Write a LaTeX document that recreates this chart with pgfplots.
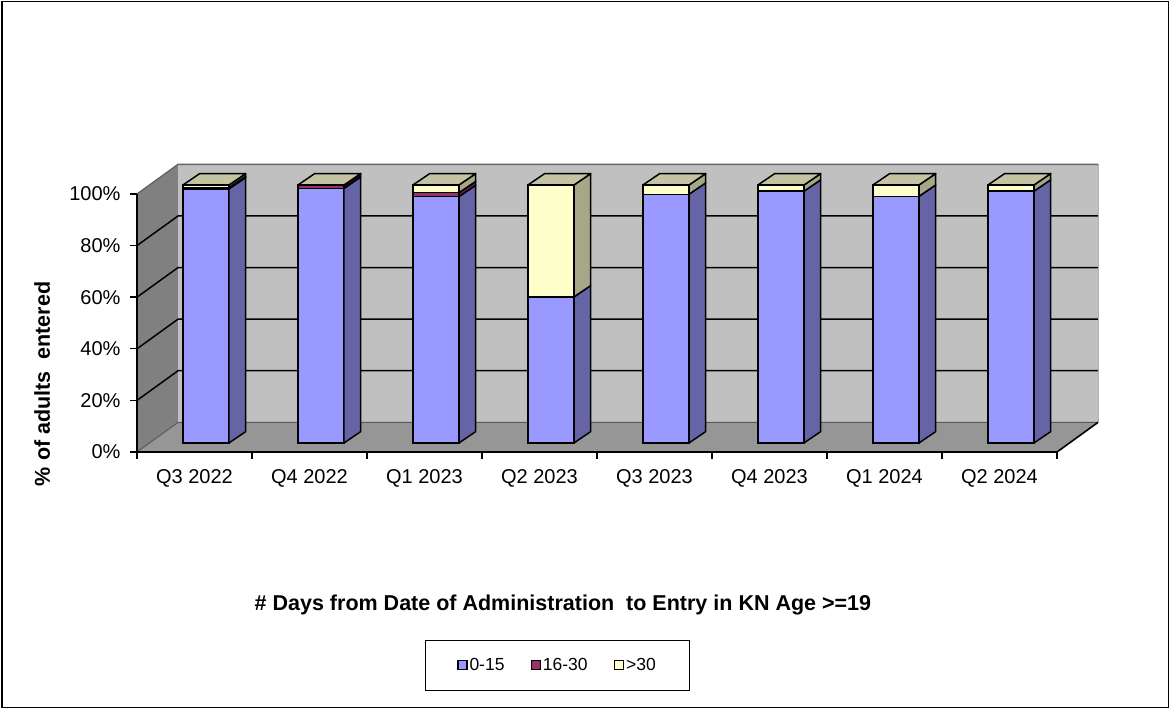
\documentclass[border=0pt]{standalone}
\usepackage{fontspec}
\setmainfont{Liberation Sans}
\usepackage{pgfplots}
\usepackage{pgfplotstable}
\pgfplotsset{compat=1.18}

\definecolor{blueF}{HTML}{9999FF}
\definecolor{blueS}{HTML}{6464A6}
\definecolor{redF}{HTML}{993366}
\definecolor{redS}{HTML}{662244}
\definecolor{yelF}{HTML}{FFFFCC}
\definecolor{yelS}{HTML}{A6A688}
\definecolor{topF}{HTML}{C4C4A2}
\definecolor{wallB}{HTML}{C0C0C0}
\definecolor{wallL}{HTML}{808080}
\definecolor{floorC}{HTML}{969696}

% share of adults by days to entry (percent)
\pgfplotstableread{
x a b c
0 98.5 0.5 1.0
1 98.7 1.0 0.3
2 95.5 1.5 3.0
3 56.6 0.0 43.4
4 96.4 0.0 3.6
5 97.6 0.0 2.4
6 95.6 0.0 4.4
7 97.6 0.0 2.4
}\datatable

% 3d look: bar depth and bar base
\def\bx{0.145}
\def\by{4.4}
\def\base{3.5}

\begin{document}
\begin{tikzpicture}
\path (0pt,0pt) rectangle (1171pt,709pt);
\draw[line width=1.5pt] (2pt,1.5pt) rectangle (1168.5pt,707.5pt);
\begin{axis}[
    at={(137pt,257pt)}, anchor=south west,
    scale only axis, width=920pt, height=258pt,
    xmin=-0.5, xmax=7.5, ymin=0, ymax=100,
    clip=false, axis on top,
    ybar stacked, reverse stacked plots=false,
    bar width=0.4, bar shift=0.1,
    axis x line*=bottom, axis y line*=left,
    axis line style={line width=1.6pt, black},
    tick align=outside, major tick length=7pt,
    tick style={black, line width=1.4pt},
    xtick={-0.5,0.5,...,7.5},
    xticklabels={Q3 2022,Q4 2022,Q1 2023,Q2 2023,Q3 2023,Q4 2023,Q1 2024,Q2 2024,{}},
    xticklabel style={xshift=57.5pt, yshift=-7pt},
    ytick={0,20,...,100},
    yticklabels={0\%,20\%,40\%,60\%,80\%,100\%},
    yticklabel style={xshift=-6pt},
    ticklabel style={font=\fontsize{20}{22}\selectfont},
    ylabel={\% of adults\ \ entered},
    ylabel style={at={(axis description cs:-0.103,0.264)}, rotate=0, anchor=center,
        font=\bfseries\fontsize{21.5}{24}\selectfont},
    xlabel={\# Days from Date of Administration\ \ to Entry in KN Age >=19},
    xlabel style={at={(axis description cs:0.463,-0.593)}, anchor=center,
        font=\bfseries\fontsize{21.5}{24}\selectfont},
    legend columns=3,
    legend style={at={(axis description cs:0.457,-0.826)}, anchor=center,
        draw=black, line width=0.8pt, font=\fontsize{17.5}{20}\selectfont,
        inner xsep=32pt, inner ysep=16pt,
        /tikz/every even column/.append style={column sep=24pt}},
    legend image code/.code={\draw[#1, draw=black, line width=1.4pt] (0pt,-4.5pt) rectangle (9pt,4.5pt);},
]
% walls and floor
\fill[wallL] (axis cs:-0.5,0) -- (axis cs:-0.143,11.5) -- (axis cs:-0.143,111.5) -- (axis cs:-0.5,100) -- cycle;
\fill[floorC] (axis cs:-0.5,0) -- (axis cs:7.5,0) -- (axis cs:7.857,11.5) -- (axis cs:-0.143,11.5) -- cycle;
\fill[wallB] (axis cs:-0.143,11.5) rectangle (axis cs:7.857,111.5);
\draw[black, line width=1.5pt] (axis cs:-0.5,20) -- (axis cs:-0.143,31.5) -- (axis cs:7.857,31.5);
\draw[black, line width=1.5pt] (axis cs:-0.5,40) -- (axis cs:-0.143,51.5) -- (axis cs:7.857,51.5);
\draw[black, line width=1.5pt] (axis cs:-0.5,60) -- (axis cs:-0.143,71.5) -- (axis cs:7.857,71.5);
\draw[black, line width=1.5pt] (axis cs:-0.5,80) -- (axis cs:-0.143,91.5) -- (axis cs:7.857,91.5);
\draw[gray!80!black, line width=1.4pt] (axis cs:-0.5,100) -- (axis cs:-0.143,111.5) -- (axis cs:7.857,111.5);
\draw[gray!60, line width=1pt] (axis cs:7.857,111.5) -- (axis cs:7.857,11.5);
\draw[gray!70!black, line width=1pt] (axis cs:-0.5,0) -- (axis cs:-0.143,11.5) -- (axis cs:7.857,11.5);
\draw[black, line width=1.6pt] (axis cs:7.5,0) -- (axis cs:7.857,11.5);

% front faces
\addplot[draw=none, fill=none, forget plot] coordinates {(0,3.5) (1,3.5) (2,3.5) (3,3.5) (4,3.5) (5,3.5) (6,3.5) (7,3.5)};
\addplot[fill=blueF, draw=black, line width=1.5pt] table[x=x, y=a] {\datatable};
\addlegendentry{0-15}
\addplot[fill=redF, draw=black, line width=1.5pt] table[x=x, y=b] {\datatable};
\addlegendentry{16-30}
\addplot[fill=yelF, draw=black, line width=1.5pt] table[x=x, y=c] {\datatable};
\addlegendentry{>30}

% side and top faces from the same table
\pgfplotsinvokeforeach{0,...,7}{
  \pgfplotstablegetelem{#1}{a}\of\datatable \let\va=\pgfplotsretval
  \pgfplotstablegetelem{#1}{b}\of\datatable \let\vb=\pgfplotsretval
  \pgfplotstablegetelem{#1}{c}\of\datatable \let\vc=\pgfplotsretval
  \pgfmathsetmacro\yO{\base}
  \pgfmathsetmacro\yA{\base+\va}
  \pgfmathsetmacro\yB{\yA+\vb}
  \pgfmathsetmacro\yC{\yB+\vc}
  \pgfmathsetmacro\yOs{\yO+\by}
  \pgfmathsetmacro\yAs{\yA+\by}
  \pgfmathsetmacro\yBs{\yB+\by}
  \pgfmathsetmacro\yCs{\yC+\by}
  \pgfmathsetmacro\xl{#1-0.1}
  \pgfmathsetmacro\xr{#1+0.3}
  \pgfmathsetmacro\xls{\xl+\bx}
  \pgfmathsetmacro\xrs{\xr+\bx}
  \edef\temp{\noexpand\filldraw[fill=blueS, draw=black, line width=1.5pt, line join=round]
    (axis cs:\xr,\yO) -- (axis cs:\xrs,\yOs) -- (axis cs:\xrs,\yAs) -- (axis cs:\xr,\yA) -- cycle;}
  \temp
  \ifdim\vb pt>0pt
  \edef\temp{\noexpand\filldraw[fill=redS, draw=black, line width=1.5pt, line join=round]
    (axis cs:\xr,\yA) -- (axis cs:\xrs,\yAs) -- (axis cs:\xrs,\yBs) -- (axis cs:\xr,\yB) -- cycle;}
  \temp
  \fi
  \ifdim\vc pt>0pt
  \edef\temp{\noexpand\filldraw[fill=yelS, draw=black, line width=1.5pt, line join=round]
    (axis cs:\xr,\yB) -- (axis cs:\xrs,\yBs) -- (axis cs:\xrs,\yCs) -- (axis cs:\xr,\yC) -- cycle;}
  \temp
  \fi
  \edef\temp{\noexpand\filldraw[fill=topF, draw=black, line width=1.5pt, line join=round]
    (axis cs:\xl,\yC) -- (axis cs:\xr,\yC) -- (axis cs:\xrs,\yCs) -- (axis cs:\xls,\yCs) -- cycle;}
  \temp
}
\end{axis}
\end{tikzpicture}
\end{document}
